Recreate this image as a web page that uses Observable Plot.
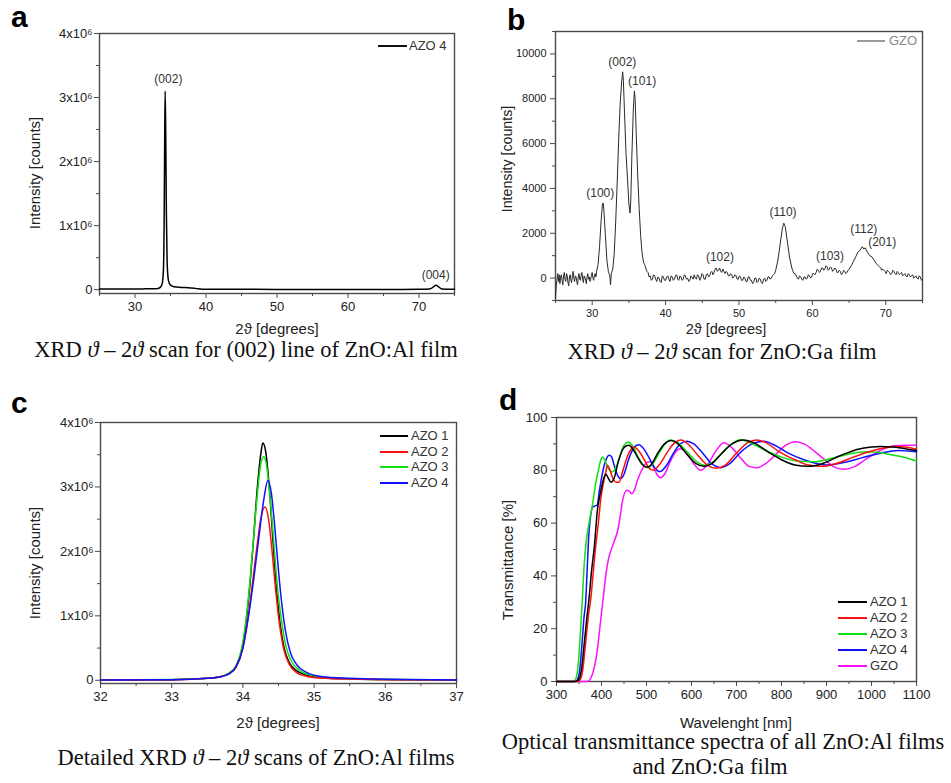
<!DOCTYPE html>
<html><head><meta charset="utf-8">
<script src="https://cdn.jsdelivr.net/npm/d3@7"></script>
<script src="https://cdn.jsdelivr.net/npm/@observablehq/plot@0.6"></script>
<style>
body{margin:0;background:#fff;}
#fig{position:relative;width:951px;height:783px;overflow:hidden;background:#fff;}
.panel{position:absolute;}
.letter{position:absolute;font:bold 30px/30px "Liberation Sans",Arial,sans-serif;color:#000;}
.cap{position:absolute;font:22.5px/16px "Liberation Serif","Times New Roman",serif;color:#111;white-space:nowrap;transform:translateX(-50%);}
.axl{position:absolute;font-family:"Liberation Sans",Arial,sans-serif;color:#222;white-space:nowrap;}
</style></head>
<body>
<div id="fig">
  <div class="letter" style="left:11px;top:2px">a</div>
  <div class="letter" style="left:507px;top:5px">b</div>
  <div class="letter" style="left:11px;top:388px">c</div>
  <div class="letter" style="left:499px;top:385px">d</div>
  <div class="cap" style="left:246px;top:342px">XRD <i>ϑ</i> – 2<i>ϑ</i> scan for (002) line of ZnO:Al film</div>
  <div class="cap" style="left:722px;top:344px">XRD <i>ϑ</i> – 2<i>ϑ</i> scan for ZnO:Ga film</div>
  <div class="cap" style="left:256px;top:750px">Detailed XRD <i>ϑ</i> – 2<i>ϑ</i> scans of ZnO:Al films</div>
  <div class="cap" style="left:723px;top:734px">Optical transmittance spectra of all ZnO:Al films</div>
  <div class="cap" style="left:710px;top:759px">and ZnO:Ga film</div>
</div>
<script>
// ---------- Panel a: XRD full scan of AZO 4 (2θ [deg], counts) ----------
const azo4Full = [[25,0.01e6],[28,0.01e6],[31,0.012e6],[33,0.015e6],[33.5,0.03e6],[33.8,0.08e6],[34.0,0.3e6],[34.1,1.0e6],[34.18,2.3e6],[34.25,3.1e6],[34.33,2.4e6],[34.42,1.2e6],[34.52,0.45e6],[34.7,0.15e6],[35.0,0.07e6],[35.5,0.045e6],[36.5,0.035e6],[37.5,0.03e6],[38.5,0.02e6],[39.5,0.008e6],[45,0.005e6],[55,0.004e6],[65,0.004e6],[70,0.005e6],[71.5,0.01e6],[72.0,0.04e6],[72.4,0.07e6],[72.8,0.04e6],[73.2,0.012e6],[75,0.006e6]];
const aPeaks = [{hkl:"(002)",x:34.7,y:3.28e6},{hkl:"(004)",x:72.35,y:0.22e6}];
const aXTicks = [30,40,50,60,70];
const aXMinor = [25,35,45,55,65,75];
const aYTicks = [0,1e6,2e6,3e6,4e6];
const aYLabels = ["0","1x10⁶","2x10⁶","3x10⁶","4x10⁶"];
const aYMinor = [0.5e6,1.5e6,2.5e6,3.5e6];

// ---------- Panel b: XRD scan of GZO ----------
const gzo = [[25.0,-900],[25.1,-350],[25.2,-100],[25.3,200],[25.4,-150],[25.5,150],[25.6,-250],[25.7,50],[25.8,150],[25.9,-100],[26.0,-300],[26.1,100],[26.2,250],[26.3,-50],[26.4,-150],[26.5,200],[26.6,100],[26.7,-200],[26.8,-350],[26.9,50],[27.0,150],[27.1,-100],[27.2,-200],[27.3,100],[27.4,300],[27.5,0],[27.6,-150],[27.7,100],[27.8,50],[27.9,-150],[28.0,-300],[28.1,50],[28.2,200],[28.3,-50],[28.4,-100],[28.5,150],[28.6,250],[28.7,-50],[28.8,-200],[28.9,100],[29.0,50],[29.1,-100],[29.2,-250],[29.3,50],[29.4,200],[29.5,-50],[29.6,50],[29.7,-150],[29.8,-50],[29.9,150],[30.0,250],[30.1,0],[30.2,-100],[30.3,100],[30.4,200],[30.5,50],[30.6,300],[30.8,600],[31.0,1400],[31.2,2500],[31.4,3300],[31.5,3350],[31.6,3000],[31.8,1900],[32.0,800],[32.2,300],[32.3,200],[32.4,100],[32.5,-300],[32.6,200],[32.8,400],[33.0,1100],[33.2,2500],[33.4,4200],[33.6,6100],[33.8,7700],[34.0,8700],[34.15,9200],[34.25,8800],[34.4,7400],[34.6,5600],[34.8,4500],[35.0,3300],[35.15,2900],[35.25,3400],[35.4,5400],[35.6,7500],[35.75,8350],[35.85,8000],[36.0,6400],[36.2,4600],[36.4,3100],[36.6,1900],[36.8,1100],[37.0,700],[37.15,600],[37.3,450],[37.45,300],[37.6,250],[37.75,50],[37.9,100],[38.05,-100],[38.2,-50],[38.35,150],[38.5,100],[38.65,-50],[38.8,-150],[38.95,50],[39.1,0],[39.25,-150],[39.4,-200],[39.55,100],[39.7,50],[39.85,-100],[40.0,-100],[40.15,50],[40.3,100],[40.45,-50],[40.6,-150],[40.75,100],[40.9,50],[41.05,-100],[41.2,-50],[41.35,100],[41.5,150],[41.65,-50],[41.8,-100],[41.95,100],[42.1,50],[42.25,-100],[42.4,-50],[42.55,150],[42.7,100],[42.85,-50],[43.0,0],[43.15,-150],[43.3,-100],[43.45,100],[43.6,50],[43.75,-50],[43.9,150],[44.05,0],[44.2,-50],[44.35,150],[44.5,100],[44.65,-100],[44.8,0],[44.95,200],[45.1,150],[45.25,-50],[45.4,-50],[45.55,150],[45.7,200],[45.85,50],[46.0,100],[46.15,250],[46.3,300],[46.45,150],[46.6,250],[46.75,400],[46.9,450],[47.05,300],[47.2,350],[47.35,450],[47.5,300],[47.65,250],[47.8,400],[47.95,300],[48.1,200],[48.25,300],[48.4,250],[48.55,100],[48.7,100],[48.85,200],[49.0,150],[49.15,0],[49.3,50],[49.45,150],[49.6,100],[49.75,-50],[49.9,-50],[50.05,100],[50.2,50],[50.35,-100],[50.5,-100],[50.65,50],[50.8,0],[50.95,-150],[51.1,-150],[51.25,50],[51.4,50],[51.55,-100],[51.7,-100],[51.85,-250],[52.0,-200],[52.15,0],[52.3,0],[52.45,-200],[52.6,-150],[52.75,0],[52.9,-50],[53.05,-200],[53.2,-250],[53.35,-50],[53.5,0],[53.65,-150],[53.8,-100],[53.95,50],[54.1,50],[54.25,-50],[54.4,0],[54.55,100],[54.7,150],[54.85,200],[55.0,350],[55.3,800],[55.6,1500],[55.9,2200],[56.1,2450],[56.3,2300],[56.6,1600],[56.9,900],[57.2,450],[57.35,300],[57.5,200],[57.65,200],[57.8,100],[57.95,0],[58.1,-50],[58.25,100],[58.4,50],[58.55,-50],[58.7,-100],[58.85,50],[59.0,50],[59.15,-50],[59.3,0],[59.45,150],[59.6,100],[59.75,0],[59.9,50],[60.05,200],[60.2,200],[60.35,150],[60.5,250],[60.65,400],[60.8,350],[60.95,250],[61.1,300],[61.25,450],[61.4,450],[61.55,350],[61.7,400],[61.85,550],[62.0,500],[62.15,350],[62.3,400],[62.45,500],[62.6,450],[62.75,300],[62.9,350],[63.05,450],[63.2,400],[63.35,250],[63.5,250],[63.65,350],[63.8,300],[63.95,150],[64.1,200],[64.25,350],[64.4,300],[64.55,200],[64.7,250],[64.85,350],[65.0,400],[65.3,550],[65.6,750],[65.9,950],[66.2,1150],[66.5,1250],[66.8,1400],[67.0,1300],[67.2,1350],[67.5,1150],[67.8,1000],[68.1,950],[68.4,800],[68.7,650],[69.0,550],[69.15,500],[69.3,450],[69.45,350],[69.6,400],[69.75,350],[69.9,300],[70.05,200],[70.2,350],[70.35,300],[70.5,250],[70.65,150],[70.8,200],[70.95,350],[71.1,300],[71.25,200],[71.4,150],[71.55,300],[71.7,250],[71.85,150],[72.0,200],[72.15,250],[72.3,100],[72.45,150],[72.6,200],[72.75,100],[72.9,50],[73.05,200],[73.2,150],[73.35,50],[73.5,100],[73.65,150],[73.8,0],[73.95,50],[74.1,100],[74.25,0],[74.4,-50],[74.55,100],[74.7,50],[74.85,-100],[75.0,-50]];
const bPeaks = [{hkl:"(100)",x:31.1,y:3800},{hkl:"(002)",x:34.1,y:9620},{hkl:"(101)",x:36.8,y:8780},{hkl:"(102)",x:47.4,y:940},{hkl:"(110)",x:56.0,y:2950},{hkl:"(103)",x:62.4,y:980},{hkl:"(112)",x:67.0,y:2170},{hkl:"(201)",x:69.5,y:1600}];
const bXTicks = [30,40,50,60,70];
const bXMinor = [25,35,45,55,65,75];
const bYTicks = [0,2000,4000,6000,8000,10000];
const bYMinor = [-1000,1000,3000,5000,7000,9000,11000];

// ---------- Panel c: detailed (002) peaks (values in 10^6 counts) ----------
const cNames = ["AZO 1","AZO 2","AZO 3","AZO 4"];
const cColors = ["#000000","#ff1010","#10e010","#1010ff"];
const azo1 = [[32.0,0.005],[32.5,0.006],[33.0,0.01],[33.3,0.02],[33.5,0.03],[33.7,0.06],[33.8,0.1],[33.9,0.2],[34.0,0.55],[34.05,0.95],[34.1,1.5],[34.15,2.2],[34.2,2.95],[34.25,3.5],[34.28,3.68],[34.32,3.55],[34.37,3.0],[34.42,2.2],[34.47,1.45],[34.52,0.9],[34.58,0.5],[34.65,0.28],[34.75,0.15],[34.9,0.08],[35.1,0.04],[35.5,0.02],[36.0,0.012],[36.5,0.008],[37.0,0.005]];
const azo2 = [[32.0,0.005],[33.0,0.01],[33.5,0.03],[33.7,0.06],[33.8,0.1],[33.9,0.2],[34.0,0.5],[34.05,0.8],[34.1,1.2],[34.15,1.65],[34.2,2.1],[34.25,2.5],[34.31,2.69],[34.36,2.5],[34.41,2.0],[34.46,1.4],[34.51,0.9],[34.57,0.5],[34.65,0.25],[34.75,0.12],[34.9,0.06],[35.1,0.035],[35.5,0.02],[36.0,0.01],[37.0,0.005]];
const azo3 = [[32.0,0.005],[33.0,0.012],[33.5,0.03],[33.7,0.06],[33.8,0.11],[33.9,0.22],[34.0,0.6],[34.05,1.0],[34.1,1.55],[34.15,2.2],[34.2,2.85],[34.25,3.35],[34.29,3.47],[34.33,3.35],[34.38,2.85],[34.43,2.2],[34.48,1.5],[34.54,0.95],[34.6,0.55],[34.68,0.3],[34.8,0.15],[34.95,0.08],[35.1,0.05],[35.5,0.025],[36.0,0.012],[37.0,0.005]];
const azo4 = [[32.0,0.005],[33.0,0.01],[33.5,0.03],[33.7,0.06],[33.8,0.1],[33.9,0.2],[34.0,0.5],[34.05,0.8],[34.1,1.15],[34.15,1.55],[34.2,2.0],[34.25,2.45],[34.3,2.85],[34.35,3.10],[34.4,2.9],[34.45,2.35],[34.5,1.7],[34.55,1.15],[34.6,0.75],[34.67,0.42],[34.75,0.25],[34.9,0.12],[35.1,0.06],[35.5,0.03],[36.0,0.015],[37.0,0.006]];
const cXTicks = [32,33,34,35,36,37];
const cXMinor = [32.5,33.5,34.5,35.5,36.5];

// ---------- Panel d: transmittance (nm, %) ----------
const dNames = ["AZO 1","AZO 2","AZO 3","AZO 4","GZO"];
const dColors = ["#000000","#ff1010","#10e010","#1010ff","#ff10ff"];
const tAzo1 = [[300,0],[340,0],[348,0.5],[355,4],[362,15],[368,25],[372,31],[378,42],[384,51],[391,65],[397,71],[402,75],[406,77.5],[410,78.5],[415,77],[421,75.5],[428,77],[437,83],[446,87.5],[455,89.3],[461,89.5],[470,88],[480,85],[492,82],[500,81.2],[510,82],[525,86.5],[540,90],[555,91.3],[570,90],[590,86],[610,82.5],[628,81.5],[645,82.5],[665,86],[690,90],[715,91.5],[740,90.3],[770,87],[800,84],[830,82],[860,81.5],[890,82.5],[930,85.5],[970,88],[1000,88.8],[1020,89],[1050,88.8],[1080,88],[1100,87.5]];
const tAzo2 = [[300,0],[345,0],[352,0.5],[358,4],[365,15],[371,25],[376,31],[382,42],[387,51],[393,60],[398,68.6],[404,75],[409.6,79.4],[413,81.9],[418,80.5],[425,77],[433,75.5],[439,75.5],[446,79],[455,84],[464,87.5],[472,88.8],[482,87.5],[495,84],[505,81],[515,80],[528,82],[545,86.5],[560,90],[577,91.5],[595,89.5],[615,85.5],[635,82],[655,80.8],[675,82],[700,86.5],[725,90.5],[745,91.5],[765,90.5],[795,87],[830,84],[860,82],[890,81.5],[920,82.5],[960,85],[1000,87.3],[1030,88.5],[1060,89],[1080,88.7],[1100,88]];
const tAzo3 = [[300,0],[338,0],[343,1],[348,6],[353,18],[358,33],[361,43],[366,53],[372,59.7],[380,67],[387,75],[393,80],[398.5,84],[402,85],[407,84],[414,81],[424,79.4],[432,81],[440,85],[450,89.5],[459,90.7],[468,89.5],[480,85.5],[493,82],[505,81],[518,83.5],[533,88],[552,91.5],[570,90.5],[590,87],[610,83.5],[628,81.9],[645,82.8],[665,86],[685,89.5],[709,91.6],[735,90],[765,87.5],[800,85],[835,83.5],[872,83.2],[910,84.5],[950,86.2],[990,87],[1010,86.8],[1040,86],[1070,85],[1100,83.5]];
const tAzo4 = [[300,0],[342,0],[346,0.5],[352,5],[357,15],[361,24],[365,30.6],[368,42],[372,56],[376,63],[380,66],[386,66.5],[391,67],[395,72],[398,75],[404,80.5],[410,84],[417,85.7],[422,85.2],[428,82],[436,78],[443,76.8],[450,78.5],[460,84],[470,88],[478,89.5],[484,89.7],[492,88.5],[505,85],[518,81],[530,79.5],[545,82],[560,86.5],[575,90],[590,91],[605,90],[625,86.5],[645,82.5],[665,81],[685,82.5],[710,87],[735,90],[760,91],[785,89.5],[815,86.5],[850,84],[880,82.5],[900,82],[940,83],[980,84.8],[1020,86.5],[1060,87.5],[1080,87.3],[1100,87]];
const tGzo = [[300,0],[368,0],[372,0.2],[377,1.5],[384,5.3],[390,11],[398,23],[404,32],[410,40.8],[415,46],[421,49.6],[428,53],[436,57.2],[441,62],[447,68.6],[456,72.4],[462,72],[467,71.1],[473,72.5],[480,76.2],[491,80.6],[502,83.1],[508,83.3],[515,81.5],[523,78.5],[531,77.2],[540,78.5],[552,83],[565,87],[575,88.2],[590,86.5],[605,82.5],[620,80],[635,82],[655,87.5],[672,90.4],[690,88.5],[710,84.5],[728,81.5],[745,81],[765,82.5],[790,86.5],[810,89.5],[830,90.8],[850,90],[875,87],[900,83.5],[920,81],[940,80.4],[960,81.2],[990,84.5],[1020,87.5],[1050,89.3],[1075,89.5],[1100,89.5]];
const dXTicks = [300,400,500,600,700,800,900,1000,1100];
const dXMinor = [350,450,550,650,750,850,950,1050];
const dYTicks = [0,20,40,60,80,100];
const dYMinor = [10,30,50,70,90];

// ---------- helpers ----------
const fig = document.getElementById("fig");
const FONT = '"Liberation Sans", Arial, sans-serif';
const AX = "#4a4a4a";
function place(el, left, top) {
  const d = document.createElement("div");
  d.className = "panel"; d.style.left = left + "px"; d.style.top = top + "px";
  d.appendChild(el); fig.appendChild(d);
}
function axisLabel(text, cx, cy, fs, rotate) {
  const d = document.createElement("div");
  d.className = "axl";
  d.textContent = text;
  d.style.left = cx + "px"; d.style.top = cy + "px";
  d.style.fontSize = fs + "px"; d.style.lineHeight = fs + "px";
  d.style.transform = "translate(-50%,-50%)" + (rotate ? " rotate(-90deg)" : "");
  fig.appendChild(d);
}
function axes(o) {
  return [
    Plot.frame({stroke: AX, strokeWidth: 1.4}),
    Plot.axisX({ticks: o.xTicks, tickSize: 5, tickPadding: o.xPad ?? 3, stroke: AX, tickFormat: o.xFmt ?? (d => String(d)), label: null, fontSize: o.fs}),
    Plot.axisX({ticks: o.xMinor, tickSize: 3, stroke: AX, tickFormat: () => "", label: null}),
    Plot.axisY({ticks: o.yTicks, tickSize: 5, tickPadding: o.yPad ?? 3, stroke: AX, tickFormat: o.yFmt ?? (d => String(d)), label: null, fontSize: o.fs}),
    Plot.axisY({ticks: o.yMinor, tickSize: 3, stroke: AX, tickFormat: () => "", label: null})
  ];
}
function addLegend(names, colors, x1, x2, xt, y0, dy, textColor) {
  names.forEach((n, i) => {
    const y = y0 + i * dy;
    const sw = document.createElement("div");
    sw.style.cssText = `position:absolute;left:${x1}px;top:${Math.round(y - 1)}px;width:${x2 - x1}px;height:2px;background:${colors[i]}`;
    fig.appendChild(sw);
    const t = document.createElement("div");
    t.textContent = n;
    t.style.cssText = `position:absolute;left:${xt}px;top:${y - 8}px;font:13px/16px ${FONT};color:${textColor || "#333"};white-space:nowrap`;
    fig.appendChild(t);
  });
}
const baseStyle = fs => ({fontFamily: FONT, fontSize: fs + "px", color: "#222", background: "transparent", overflow: "visible"});
const X = d => d[0], Y = d => d[1];

// ---------- Panel a ----------
place(Plot.plot({
  width: 470, height: 345, marginLeft: 99, marginRight: 16, marginTop: 33, marginBottom: 52,
  style: baseStyle(13),
  x: {domain: [25, 75]}, y: {domain: [-0.06e6, 4e6]},
  marks: [
    ...axes({xTicks: aXTicks, xMinor: aXMinor, yTicks: aYTicks, yMinor: aYMinor, yPad: 2,
      yFmt: d => aYLabels[aYTicks.indexOf(d)], fs: 13}),
    Plot.line(azo4Full, {x: X, y: Y, stroke: "#000", strokeWidth: 1.5, curve: "monotone-x"}),
    Plot.text(aPeaks, {x: "x", y: "y", text: "hkl", fontSize: 12, fill: "#333"})
  ]
}), 0, 0);
axisLabel("Intensity [counts]", 34, 173, 15, true);
axisLabel("2ϑ [degrees]", 277, 328, 15, false);
addLegend(["AZO 4"], ["#111"], 378, 407, 409, 46, 0);

// ---------- Panel b ----------
place(Plot.plot({
  width: 481, height: 345, marginLeft: 85, marginRight: 29, marginTop: 31, marginBottom: 45,
  style: baseStyle(11),
  x: {domain: [25, 75]}, y: {domain: [-1000, 11000]},
  marks: [
    ...axes({xTicks: bXTicks, xMinor: bXMinor, yTicks: bYTicks, yMinor: bYMinor, yPad: 4, xPad: 4, fs: 11}),
    Plot.line(gzo, {x: X, y: Y, stroke: "#2a2a2a", strokeWidth: 1}),
    Plot.text(bPeaks, {x: "x", y: "y", text: "hkl", fontSize: 12, fill: "#333"})
  ]
}), 470, 0);
axisLabel("Intensity [counts]", 507, 159, 14.2, true);
axisLabel("2ϑ [degrees]", 726, 329, 14.5, false);
addLegend(["GZO"], ["#9a9a9a"], 857, 885, 889, 41, 0, "#888");

// ---------- Panel c ----------
const cSeries = [azo1, azo2, azo3, azo4];
place(Plot.plot({
  width: 470, height: 345, marginLeft: 100, marginRight: 14, marginTop: 32, marginBottom: 52,
  style: baseStyle(13),
  x: {domain: [32, 37]}, y: {domain: [-0.05e6, 4e6]},
  marks: [
    ...axes({xTicks: cXTicks, xMinor: cXMinor, yTicks: aYTicks, yMinor: aYMinor, yPad: 2,
      yFmt: d => aYLabels[aYTicks.indexOf(d)], fs: 13}),
    ...[0, 2, 1, 3].map(i => Plot.line(cSeries[i], {x: X, y: d => d[1] * 1e6, stroke: cColors[i], strokeWidth: 1.5, curve: "monotone-x"}))
  ]
}), 0, 390);
axisLabel("Intensity [counts]", 34, 563, 15, true);
axisLabel("2ϑ [degrees]", 278, 722, 15, false);
addLegend(cNames, cColors, 380, 408, 411, 436, 15.7);

// ---------- Panel d ----------
const dSeries = [tAzo1, tAzo2, tAzo3, tAzo4, tGzo];
place(Plot.plot({
  width: 481, height: 345, marginLeft: 86, marginRight: 35, marginTop: 27, marginBottom: 54,
  style: baseStyle(13),
  x: {domain: [300, 1100]}, y: {domain: [0, 100]},
  marks: [
    ...axes({xTicks: dXTicks, xMinor: dXMinor, yTicks: dYTicks, yMinor: dYMinor, yPad: 4, fs: 13}),
    ...[4, 3, 2, 1, 0].map(i => Plot.line(dSeries[i], {x: X, y: Y, stroke: dColors[i], strokeWidth: 1.5, curve: "monotone-x"}))
  ]
}), 470, 390);
axisLabel("Transmittance [%]", 507, 560, 15, true);
axisLabel("Wavelenght [nm]", 736, 722, 15, false);
addLegend(dNames, dColors, 838, 867, 870, 602, 16);
</script>
</body></html>
